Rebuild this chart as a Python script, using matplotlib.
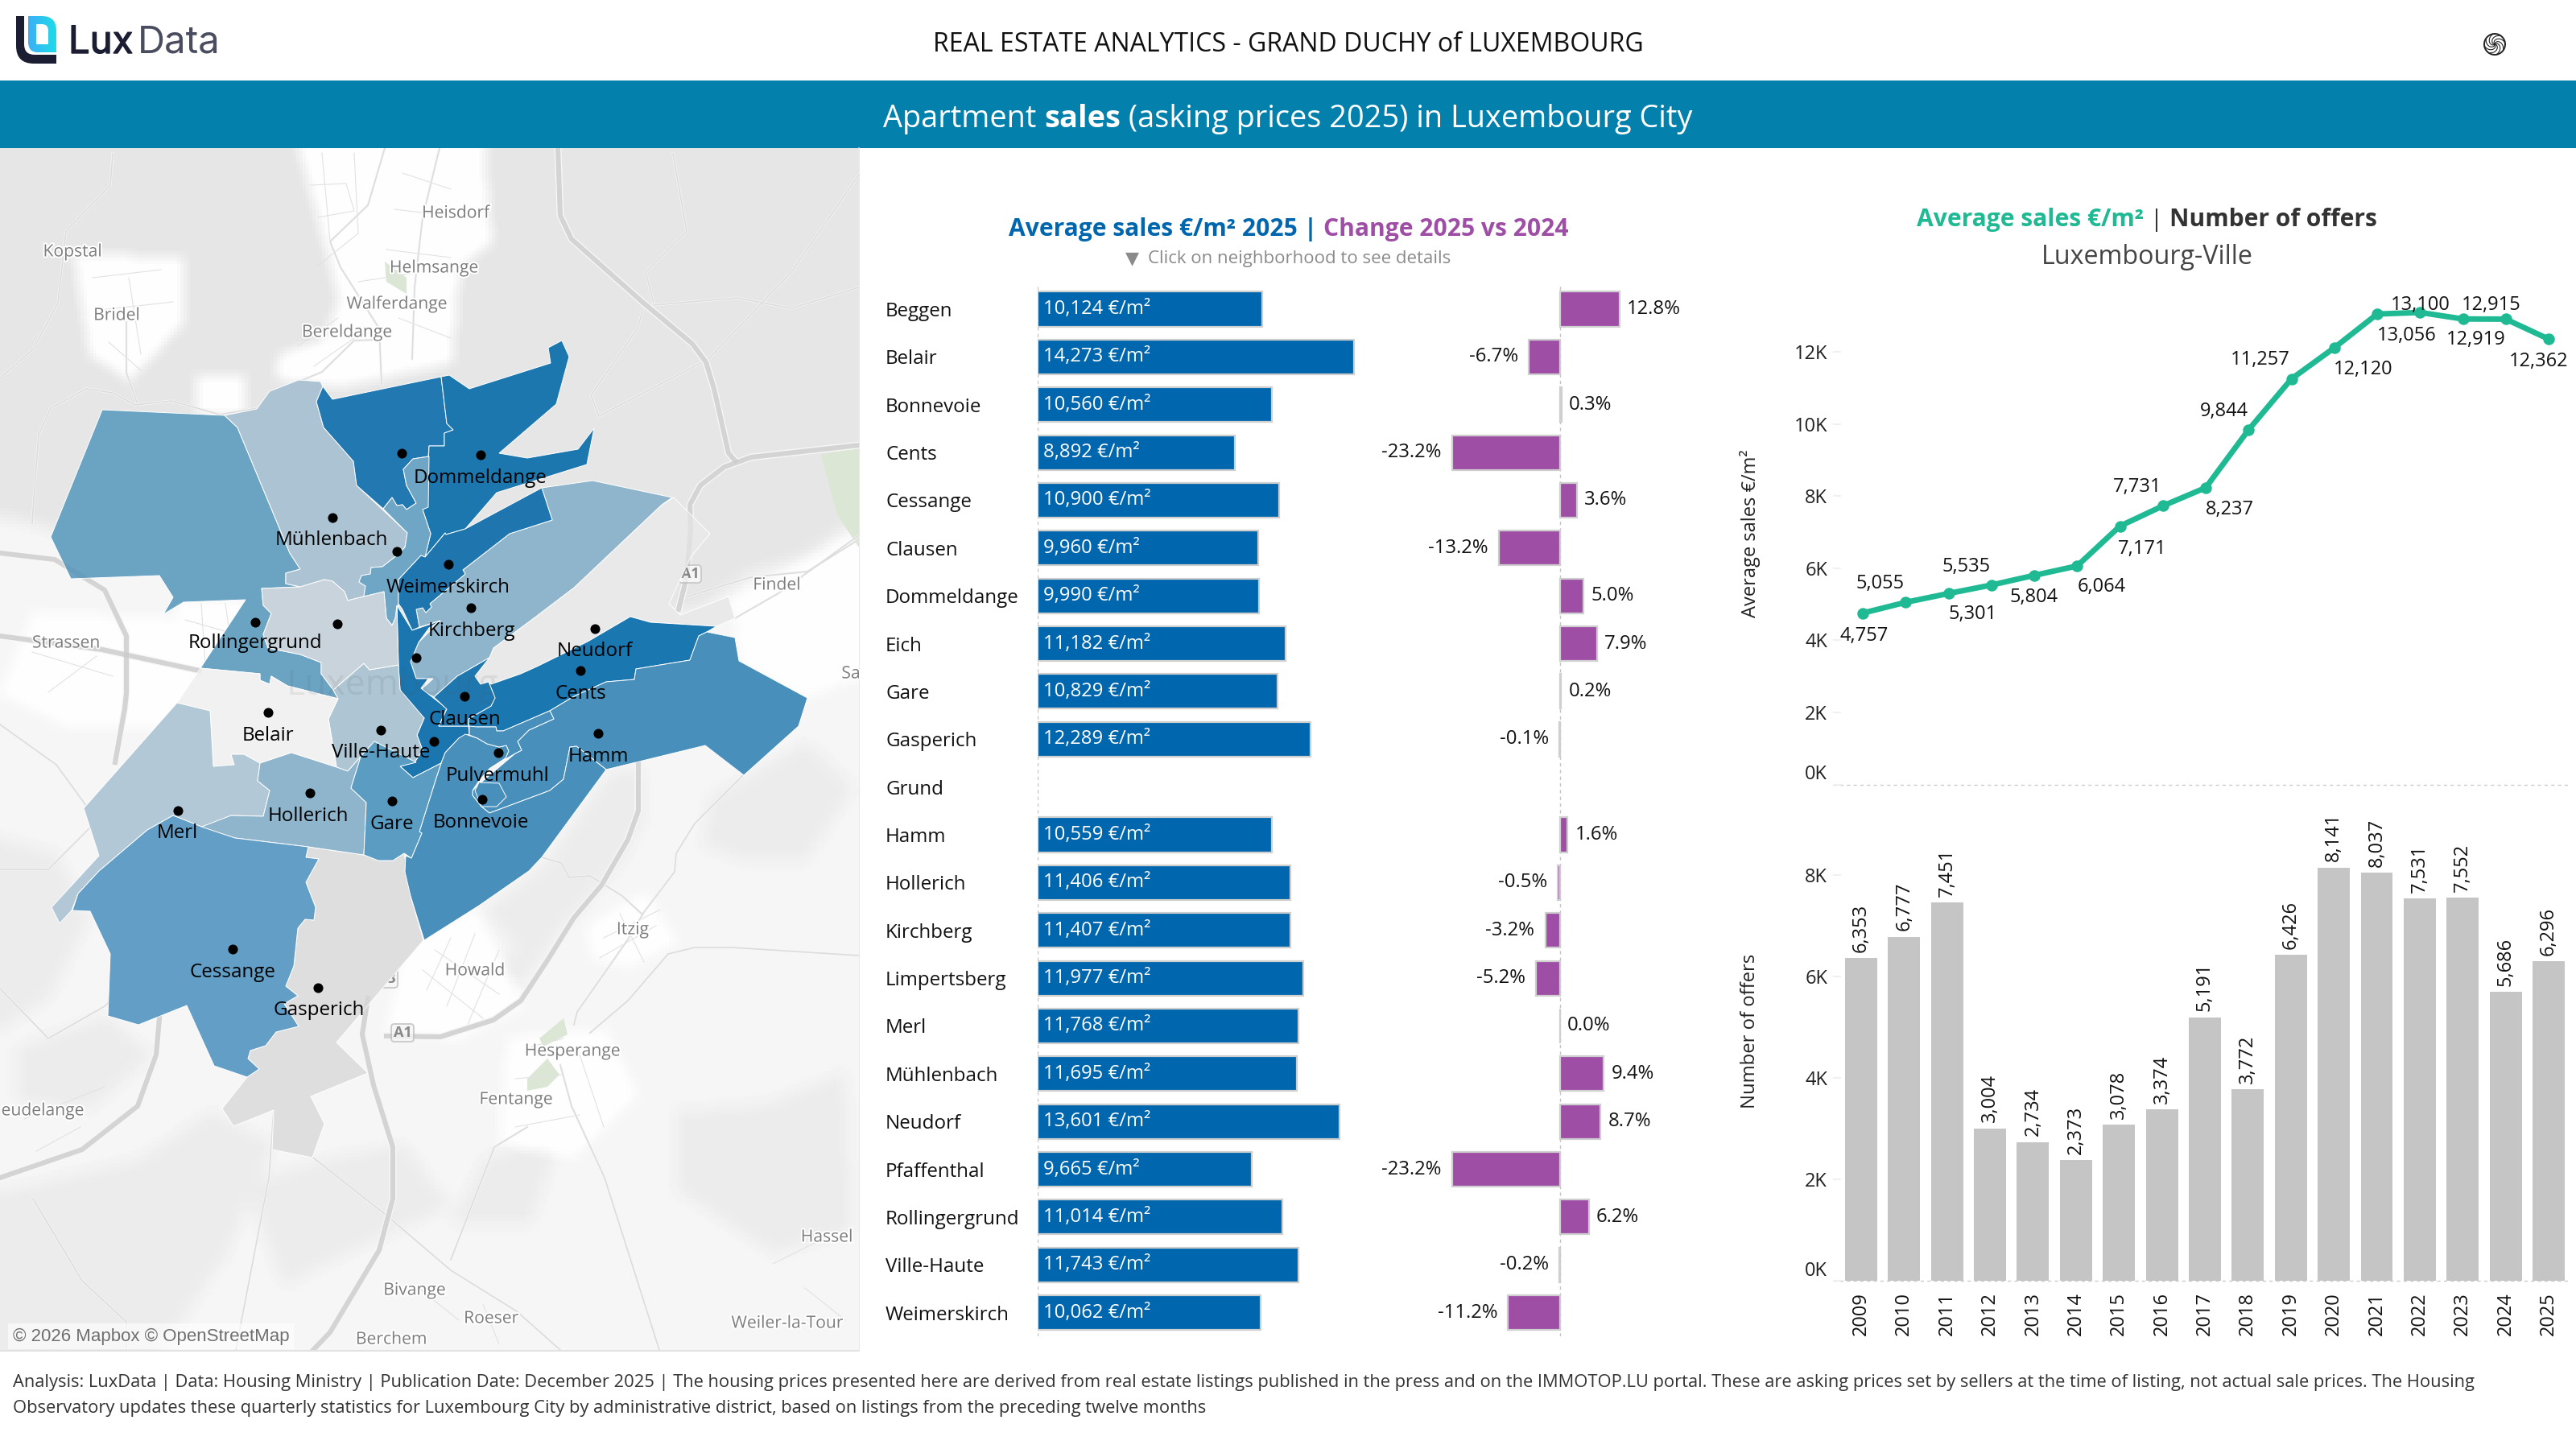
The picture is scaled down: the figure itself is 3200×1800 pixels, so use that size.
import numpy as np
import matplotlib
matplotlib.use("Agg")
import matplotlib.pyplot as plt
import matplotlib.patheffects as pe
from matplotlib.patches import PathPatch, Polygon, FancyBboxPatch
from matplotlib.path import Path

plt.rcParams["font.family"] = ["Open Sans", "DejaVu Sans"]
W, H = 3200, 1800

# ---- bars: neighborhoods
districts = ["Beggen", "Belair", "Bonnevoie", "Cents", "Cessange", "Clausen", "Dommeldange", "Eich",
             "Gare", "Gasperich", "Grund", "Hamm", "Hollerich", "Kirchberg", "Limpertsberg", "Merl",
             "Mühlenbach", "Neudorf", "Pfaffenthal", "Rollingergrund", "Ville-Haute", "Weimerskirch"]
price_2025 = [10124, 14273, 10560, 8892, 10900, 9960, 9990, 11182, 10829, 12289, np.nan, 10559,
              11406, 11407, 11977, 11768, 11695, 13601, 9665, 11014, 11743, 10062]
change_pct = [12.8, -6.7, 0.3, -23.2, 3.6, -13.2, 5.0, 7.9, 0.2, -0.1, np.nan, 1.6,
              -0.5, -3.2, -5.2, 0.0, 9.4, 8.7, -23.2, 6.2, -0.2, -11.2]

# ---- right panels
years = list(range(2009, 2026))
avg_sales = [4757, 5055, 5301, 5535, 5804, 6064, 7171, 7731, 8237, 9844, 11257, 12120, 13056,
             13100, 12919, 12915, 12362]
offers = [6353, 6777, 7451, 3004, 2734, 2373, 3078, 3374, 5191, 3772, 6426, 8141, 8037, 7531,
          7552, 5686, 6296]
line_label_shift = [(2, 28), (-32, -23), (30, 26), (-31, -23), (0, 27), (30, 26), (28, 28), (-32, -23),
                    (30, 27), (-30, -23), (-39, -24), (36, 27), (37, 27), (0, -9), (16, 26), (-18, -17),
                    (-12, 28)]

# ---- map outlines, traced in picture pixels
grey_north = [(837, 618), (882, 663), (858, 692), (831, 750), (845, 764), (905, 741), (913, 768), (890, 778),
              (808, 773), (783, 766), (730, 797), (667, 828), (647, 837), (610, 850), (597, 850), (590, 840),
              (608, 817), (613, 805), (663, 768), (713, 730), (822, 627)]
gasperich = [(383, 1052), (452, 1062), (470, 1069), (488, 1069), (502, 1060), (505, 1075), (510, 1113), (526, 1168),
             (418, 1295), (457, 1333), (386, 1362), (403, 1396), (388, 1438), (338, 1428), (340, 1379), (290, 1399),
             (276, 1377), (307, 1338), (322, 1328), (308, 1315), (311, 1305), (330, 1299), (343, 1282), (371, 1275),
             (353, 1247), (370, 1237), (355, 1225), (365, 1200), (370, 1153), (379, 1142), (390, 1143), (392, 1127),
             (380, 1096), (396, 1067), (380, 1065)]
rollingergrund = [(127, 509), (279, 516), (295, 531), (360, 687), (373, 707), (355, 712), (355, 725), (373, 729),
                  (325, 731), (327, 752), (337, 762), (327, 788), (333, 805), (373, 813), (399, 823), (399, 837),
                  (414, 857), (420, 868), (357, 852), (337, 840), (335, 850), (323, 845), (323, 837), (249, 830),
                  (305, 745), (228, 748), (203, 763), (215, 742), (198, 715), (88, 719), (63, 667)]
muhlenbach = [(279, 516), (319, 508), (335, 486), (371, 472), (398, 474), (401, 480), (393, 499), (402, 531),
              (439, 573), (443, 603), (506, 662), (503, 680), (493, 690), (475, 704), (461, 705), (460, 713),
              (449, 715), (446, 723), (454, 728), (452, 741), (432, 746), (428, 735), (413, 722), (403, 720),
              (373, 729), (355, 725), (355, 712), (373, 707), (360, 687), (295, 531)]
beggen = [(401, 480), (413, 496), (548, 468), (555, 526), (563, 534), (552, 538), (552, 554), (533, 554), (532, 567),
          (513, 570), (501, 583), (505, 603), (517, 625), (505, 633), (500, 627), (493, 628), (487, 618), (476, 632),
          (443, 603), (439, 573), (402, 531), (393, 499)]
dommeldange = [(548, 468), (558, 466), (583, 483), (684, 451), (681, 432), (698, 423), (707, 443), (691, 502),
               (620, 563), (655, 569), (718, 558), (738, 532), (729, 577), (617, 612), (578, 657), (554, 664),
               (553, 662), (528, 692), (535, 663), (525, 633), (530, 630), (533, 554), (552, 554), (552, 538),
               (563, 534), (555, 526)]
eich = [(533, 567), (513, 570), (501, 583), (505, 603), (517, 625), (505, 633), (500, 627), (493, 628), (487, 618),
        (476, 632), (506, 662), (503, 680), (493, 690), (475, 704), (461, 705), (460, 713), (449, 715), (446, 723),
        (454, 728), (452, 741), (477, 735), (480, 768), (487, 777), (491, 768), (495, 750), (495, 720), (523, 690),
        (528, 692), (535, 663), (525, 633), (532, 630)]
weimerskirch = [(673, 606), (686, 646), (633, 663), (575, 708), (578, 713), (534, 750), (536, 754), (529, 761),
                (525, 755), (517, 757), (521, 779), (512, 783), (500, 757), (495, 750), (495, 720), (523, 690),
                (528, 692), (553, 662), (554, 664), (578, 657)]
pfaffenthal = [(493, 752), (512, 783), (547, 771), (533, 780), (520, 798), (510, 822), (517, 843), (532, 843),
               (523, 855), (555, 880), (545, 902), (582, 902), (583, 912), (570, 917), (553, 935), (548, 948),
               (513, 966), (497, 952), (515, 947), (525, 932), (518, 913), (527, 892), (512, 880), (497, 857),
               (495, 830)]
kirchberg = [(673, 606), (736, 597), (835, 618), (822, 627), (713, 730), (663, 768), (613, 805), (608, 817),
             (568, 840), (539, 866), (523, 857), (538, 843), (517, 843), (510, 822), (520, 798), (547, 771),
             (521, 779), (517, 757), (525, 755), (529, 761), (536, 754), (534, 750), (578, 713), (575, 708),
             (633, 663), (686, 646)]
neudorf = [(783, 766), (808, 773), (890, 778), (878, 785), (868, 790), (857, 820), (790, 831), (788, 844), (753, 847),
           (713, 865), (683, 883), (625, 908), (617, 908), (616, 903), (593, 903), (583, 905), (582, 893), (610, 877),
           (615, 867), (607, 847), (610, 850), (647, 837), (667, 828), (730, 797)]
clausen = [(608, 817), (568, 840), (539, 866), (555, 881), (545, 902), (582, 902), (582, 893), (610, 877), (615, 867),
           (607, 847), (597, 850), (590, 840)]
hamm = [(878, 785), (913, 792), (918, 821), (1003, 867), (992, 902), (924, 963), (876, 926), (753, 956), (716, 927),
        (708, 928), (700, 968), (683, 982), (608, 1010), (598, 1002), (587, 988), (587, 982), (600, 970), (640, 936),
        (648, 932), (643, 921), (657, 907), (688, 893), (683, 883), (713, 865), (753, 847), (788, 844), (790, 831),
        (857, 820), (868, 790)]
bonnevoie = [(753, 956), (673, 1065), (657, 1082), (595, 1125), (527, 1168), (510, 1113), (503, 1083), (504, 1063),
             (511, 1066), (524, 1035), (521, 1033), (543, 963), (548, 948), (553, 935), (570, 917), (578, 912),
             (593, 917), (605, 924), (620, 928), (629, 926), (632, 933), (628, 942), (608, 955), (595, 970),
             (587, 982), (587, 988), (598, 1002), (608, 1010), (683, 982), (700, 968), (708, 928), (716, 927)]
pulvermuhl = [(583, 902), (593, 903), (616, 903), (617, 908), (625, 908), (683, 883), (688, 893), (657, 907),
              (643, 921), (648, 932), (640, 936), (608, 955), (628, 942), (632, 933), (629, 926), (620, 928),
              (605, 924), (593, 917), (583, 913)]
pulvermuhl_hole = [(590, 982), (595, 972), (620, 973), (629, 990), (617, 1002), (598, 1002)]
ville_haute = [(414, 857), (452, 824), (459, 832), (495, 826), (497, 857), (527, 892), (518, 913), (525, 932),
               (515, 947), (465, 921), (448, 940), (432, 958), (418, 953), (408, 893), (420, 868)]
limpertsberg = [(325, 731), (373, 729), (403, 720), (413, 722), (428, 735), (432, 746), (452, 741), (477, 735),
                (480, 768), (487, 777), (491, 768), (493, 752), (495, 826), (459, 832), (452, 824), (414, 857),
                (399, 837), (399, 823), (373, 813), (333, 805), (327, 788), (337, 762), (327, 752)]
belair = [(249, 830), (323, 837), (323, 845), (335, 850), (337, 840), (357, 852), (420, 868), (408, 893), (418, 953),
          (362, 935), (323, 948), (303, 937), (287, 937), (291, 950), (265, 952), (261, 883), (220, 873)]
merl = [(220, 873), (261, 883), (265, 952), (291, 950), (287, 937), (303, 937), (323, 948), (320, 970), (335, 982),
        (327, 1014), (287, 1013), (253, 1028), (215, 1013), (183, 1031), (123, 1082), (97, 1110), (89, 1131),
        (74, 1147), (64, 1127), (123, 1063), (104, 1004)]
hollerich = [(323, 948), (362, 935), (418, 953), (432, 958), (448, 940), (436, 979), (455, 997), (452, 1062),
             (383, 1052), (292, 1041), (248, 1028), (287, 1013), (327, 1014), (335, 982), (320, 970)]
gare = [(436, 979), (448, 940), (465, 921), (517, 947), (497, 952), (513, 966), (548, 948), (543, 963), (521, 1033),
        (524, 1035), (511, 1066), (502, 1060), (488, 1069), (470, 1069), (452, 1062), (455, 997)]
cessange = [(215, 1013), (253, 1028), (292, 1041), (383, 1052), (380, 1065), (396, 1067), (380, 1096), (392, 1127),
            (390, 1143), (379, 1142), (370, 1153), (365, 1200), (355, 1225), (370, 1237), (353, 1247), (371, 1275),
            (343, 1282), (330, 1299), (311, 1305), (308, 1315), (322, 1328), (307, 1338), (266, 1324), (232, 1249),
            (172, 1273), (134, 1262), (137, 1185), (112, 1132), (90, 1131), (97, 1110), (123, 1082), (183, 1031)]

map_polys = [grey_north, gasperich, rollingergrund, muhlenbach, beggen, dommeldange, eich, kirchberg, weimerskirch,
             pfaffenthal, neudorf, clausen, hamm, bonnevoie, pulvermuhl, pulvermuhl_hole, ville_haute, limpertsberg,
             belair, merl, hollerich, gare, cessange]
map_poly_colors = ["#e9e9e9", "#dedede", "#6ba3c3", "#abc3d2", "#2278b1", "#1c77af", "#6fa6c6", "#8fb5cd", "#1f76af",
                   "#1b75ae", "#1a77af", "#1f77af", "#488fbb", "#488fbb", "#488fbb", "#488fbb", "#aec5d3", "#c9d3db",
                   "#f1f1f1", "#b2c8d6", "#8fb5cd", "#5b9cc3", "#629ec5"]

map_labels = ["Dommeldange", "Mühlenbach", "Weimerskirch", "Kirchberg", "Rollingergrund", "Neudorf", "Cents",
              "Clausen", "Belair", "Ville-Haute", "Hollerich", "Merl", "Gare", "Cessange", "Gasperich", "Hamm",
              "Pulvermuhl", "Bonnevoie"]
map_label_x = [597, 412, 557, 586, 317, 739, 721, 577, 333, 473, 383, 220, 487, 289, 396, 743, 618, 597]
map_label_y = [594, 671, 730, 784, 799, 809, 862, 894, 914, 935, 1014, 1035, 1024, 1208, 1255, 940, 964, 1022]
dot_x = [499, 597, 413, 493, 557, 585, 317, 419, 517, 739, 721, 577, 333, 473, 539, 743, 619, 385, 599, 487, 221, 289, 395]
dot_y = [563, 565, 643, 685, 701, 755, 773, 775, 817, 781, 833, 865, 885, 907, 921, 911, 935, 985, 993, 995, 1007, 1179, 1227]

places = ["Heisdorf", "Kopstal", "Helmsange", "Walferdange", "Bridel", "Bereldange", "Strassen", "Findel", "Sa",
          "Howald", "Itzig", "Hesperange", "Fentange", "eudelange", "Hassel", "Bivange", "Roeser", "Weiler-la-Tour",
          "Berchem"]
place_x = [566, 90, 539, 493, 145, 431, 82, 965, 1057, 590, 786, 711, 641, 53, 1027, 515, 610, 978, 486]
place_y = [265, 313, 333, 378, 392, 413, 799, 727, 837, 1206, 1155, 1306, 1366, 1380, 1537, 1603, 1638, 1644, 1664]

motorways = [
    [(693, 184), (696, 268), (710, 297), (799, 376), (860, 427), (877, 450), (887, 483), (905, 563), (913, 572)],
    [(1067, 553), (933, 568), (900, 580), (870, 603), (857, 627), (858, 657), (853, 717), (843, 757)],
    [(0, 687), (68, 695), (130, 733), (157, 790), (157, 861), (155, 880), (143, 947)],
    [(198, 1265), (194, 1310), (171, 1374), (102, 1428), (0, 1463)],
    [(793, 947), (793, 1007), (780, 1043), (747, 1100), (713, 1140), (680, 1193), (647, 1243), (613, 1267), (547, 1288), (480, 1287)],
    [(457, 1240), (450, 1285), (464, 1348), (488, 1425), (488, 1489), (471, 1553), (410, 1655), (389, 1677)],
    [(0, 790), (127, 807), (247, 833)],
]
minor_roads = [
    [(546, 184), (525, 270), (515, 357), (512, 446)],
    [(478, 184), (457, 255), (410, 300), (423, 332), (471, 408), (474, 478)],
    [(140, 191), (137, 230), (82, 287), (72, 376), (41, 434), (0, 470)],
    [(836, 191), (853, 287), (802, 338), (812, 376)],
    [(1067, 217), (983, 338), (880, 446), (744, 517), (734, 491), (792, 408), (799, 383)],
    [(1067, 357), (983, 383), (915, 370), (812, 379)],
    [(107, 483), (63, 507), (48, 540), (42, 620), (40, 650)],
    [(107, 483), (140, 488), (168, 503), (213, 498), (273, 515), (320, 507), (357, 480), (400, 462), (440, 423), (470, 422)],
    [(157, 400), (157, 463), (170, 500)],
    [(847, 743), (933, 717), (1003, 710), (1067, 670)],
    [(913, 768), (967, 737), (1067, 665)],
    [(819, 1677), (751, 1463), (710, 1374), (696, 1323)],
    [(560, 1565), (614, 1425), (655, 1400)],
    [(389, 1438), (478, 1508), (560, 1578), (642, 1629), (696, 1677)],
    [(41, 1489), (102, 1591), (157, 1642), (157, 1677)],
    [(293, 1677), (334, 1463), (340, 1380)],
    [(923, 963), (863, 1023), (840, 1060), (838, 1083), (800, 1133), (780, 1167), (743, 1220), (717, 1257), (713, 1273)],
    [(1067, 1187), (910, 1177), (863, 1177), (830, 1185), (780, 1243), (733, 1283)],
    [(673, 1065), (697, 1072), (707, 1090), (733, 1088), (773, 1113), (797, 1135)],
    [(0, 1228), (60, 1290), (130, 1250), (190, 1190), (270, 1120)],
    [(0, 900), (70, 950), (110, 1005), (200, 1020)],
    [(0, 1080), (60, 1080), (120, 1020)],
]
# thin street bits inside the villages
streets = [
    [(385, 230), (430, 228), (440, 262), (395, 270)], [(400, 190), (410, 300)], [(440, 190), (445, 290), (395, 330)],
    [(500, 215), (560, 235)], [(490, 260), (575, 270)], [(480, 310), (560, 320)], [(445, 350), (510, 340)],
    [(115, 345), (200, 335)], [(125, 385), (215, 375)], [(135, 425), (175, 460)], [(160, 345), (175, 440)],
    [(370, 430), (420, 395)], [(390, 455), (440, 420)], [(495, 395), (560, 420)],
    [(540, 1180), (620, 1235)], [(525, 1205), (600, 1265)], [(560, 1165), (530, 1230)], [(590, 1160), (555, 1250)],
    [(620, 1180), (580, 1275)],
    [(750, 1165), (820, 1130)], [(745, 1190), (815, 1150)], [(770, 1135), (800, 1195)],
    [(640, 1340), (700, 1335)], [(660, 1300), (700, 1290)], [(640, 1400), (720, 1385)], [(720, 1310), (750, 1400)],
    [(40, 810), (140, 840)], [(60, 860), (120, 815)], [(230, 770), (300, 790)], [(250, 750), (255, 825)], [(280, 750), (290, 820)],
    [(30, 1390), (130, 1350)], [(45, 1430), (100, 1400)], [(520, 1600), (570, 1640)], [(600, 1620), (620, 1670)],
    [(960, 1570), (1040, 1530)], [(1000, 1600), (1050, 1640)],
]
# hills are grey, towns are white, the rest of the basemap sits in between
hills_north = [[(0, 184), (1067, 184), (1067, 640), (1000, 690), (930, 712), (870, 755), (600, 800), (0, 640)]]
hills_south = [
    [(673, 1075), (755, 960), (795, 950), (800, 1020), (770, 1075), (700, 1150), (650, 1220), (600, 1220), (640, 1180), (600, 1130)],
    [(880, 990), (1000, 920), (1060, 980), (1000, 1070), (920, 1070), (870, 1050)],
    [(840, 1380), (950, 1370), (1050, 1330), (1060, 1530), (960, 1560), (840, 1480)],
    [(0, 1480), (170, 1440), (260, 1380), (340, 1420), (280, 1560), (200, 1677), (0, 1677)],
    [(0, 1040), (70, 1060), (110, 1140), (60, 1240), (0, 1280)],
    [(300, 1470), (400, 1440), (500, 1420), (560, 1500), (470, 1540), (350, 1600)],
    [(20, 1300), (130, 1260), (190, 1310), (110, 1380), (20, 1370)],
    [(600, 1440), (700, 1400), (660, 1520), (560, 1520)],
]
towns = [
    [(370, 184), (600, 184), (610, 300), (570, 330), (560, 450), (420, 480), (340, 470), (345, 440), (400, 420), (420, 370)],
    [(90, 312), (225, 320), (225, 400), (160, 472), (110, 440)],
    [(243, 467), (300, 467), (300, 513), (243, 513)],
    [(905, 745), (1067, 660), (1067, 840), (1000, 865), (918, 821), (913, 770)],
    [(500, 1175), (590, 1130), (650, 1250), (570, 1290), (480, 1280)],
    [(730, 1150), (800, 1110), (840, 1170), (780, 1200), (735, 1190)],
    [(630, 1290), (750, 1280), (790, 1360), (710, 1440), (620, 1420)],
    [(40, 760), (240, 770), (330, 800), (250, 850), (200, 900), (80, 900), (0, 860)],
    [(220, 747), (303, 747), (303, 827), (220, 827)],
]
parks = [[(1020, 565), (1067, 555), (1067, 680), (1040, 640)],
         [(670, 1290), (700, 1265), (705, 1285), (675, 1300)],
         [(655, 1340), (680, 1315), (695, 1335), (680, 1350), (655, 1355)],
         [(478, 325), (505, 345), (505, 365), (480, 350)]]
shield_names = ["A1", "A1", "A3"]
shield_x = [857, 500, 480]
shield_y = [713, 1283, 1216]

fig = plt.figure(figsize=(16, 9), dpi=200, facecolor="white")


def px_axes(left, top, right, bottom):
    return fig.add_axes([left / W, 1 - bottom / H, (right - left) / W, (bottom - top) / H])


page = px_axes(0, 0, W, H)
page.set_xlim(0, W)
page.set_ylim(H, 0)
page.axis("off")
renderer = fig.canvas.get_renderer()


def rich_text(x, y, parts, size, center=True):
    # colored / bold runs on one line
    items = [page.text(0, y, s, fontsize=size, color=c, fontweight=w, va="center", ha="left") for s, c, w in parts]
    widths = [t.get_window_extent(renderer).width for t in items]
    cur = x - sum(widths) / 2 if center else x
    for t, wd in zip(items, widths):
        t.set_x(cur)
        cur += wd


# header
page.add_patch(plt.Rectangle((0, 100), W, 84, color="#0380ab", lw=0))
page.text(1600, 55, "REAL ESTATE ANALYTICS - GRAND DUCHY of LUXEMBOURG", fontsize=11.5, ha="center", va="center", color="#111111")
rich_text(1600, 148, [("Apartment ", "white", "normal"), ("sales", "white", "bold"),
                      (" (asking prices 2025) in Luxembourg City", "white", "normal")], 13.65)

# logo
logo_l = Path([(20, 20), (30, 20), (30, 55), (30, 68), (43, 68), (70, 68), (70, 79), (42, 79), (20, 79), (20, 57), (20, 20)],
              [1, 2, 2, 3, 3, 2, 2, 2, 3, 3, 79])
page.add_patch(PathPatch(logo_l, color="#1b1d33", lw=0))
logo_d = Path([(35, 20), (52, 20), (70, 20), (70, 38), (70, 65), (47, 65), (35, 65), (35, 52), (35, 20),
               (45, 30), (45, 55), (60, 55), (60, 38), (60, 30), (52, 30), (45, 30)],
              [1, 2, 3, 3, 2, 2, 3, 3, 79, 1, 2, 2, 2, 3, 3, 79])
grad = np.linspace(0, 1, 60)[None, :]
im = page.imshow(grad, extent=(35, 70, 65, 20), cmap=matplotlib.colors.LinearSegmentedColormap.from_list("logo", ["#3cb0f6", "#1edbe8"]),
                 aspect="auto", zorder=2)
im.set_clip_path(PathPatch(logo_d, transform=page.transData))
page.set_xlim(0, W)
page.set_ylim(H, 0)
page.text(85, 54, "Lux", fontsize=17, family="Inter", color="#1b1d33", va="center", ha="left",
          path_effects=[pe.withStroke(linewidth=0.5, foreground="#1b1d33")])
page.text(171, 54, "Data", fontsize=17, family="Inter", color="#4a4c60", va="center", ha="left")

# spiral icon
for a in np.linspace(0, 2 * np.pi, 9)[:-1]:
    t = np.linspace(0, 1, 20)
    r = 13 * t
    ang = a + 2.2 * t
    page.plot(3099 + r * np.cos(ang), 55 + r * np.sin(ang), color="#222222", lw=0.4)
t = np.linspace(0, 2 * np.pi, 60)
page.plot(3099 + 13 * np.cos(t), 55 + 13 * np.sin(t), color="#222222", lw=0.7)

# ---- map
ax_map = px_axes(0, 184, 1067, 1677)
ax_map.set_xlim(0, 1067)
ax_map.set_ylim(1677, 184)
ax_map.axis("off")

gx, gy = np.meshgrid(np.arange(0, 1067, 4), np.arange(184, 1677, 4))
pts = np.column_stack([gx.ravel(), gy.ravel()])


def soft_mask(polys, n):
    m = np.zeros(gx.size, dtype=float)
    for p in polys:
        m = np.maximum(m, Path(p).contains_points(pts, radius=0.5).astype(float))
    m = m.reshape(gx.shape)
    k = np.ones(n) / n
    for ax_i in (0, 1):
        m = np.apply_along_axis(lambda v: np.convolve(np.pad(v, n, mode="edge"), k, mode="same")[n:-n], ax_i, m)
    return m


shade = 246 - 16 * soft_mask(hills_north, 7) - 10 * soft_mask(hills_south, 7)
town_mask = soft_mask(towns, 5)
shade = shade * (1 - town_mask) + 254 * town_mask
ax_map.imshow(shade, extent=(0, 1067, 1677, 184), cmap="gray", vmin=0, vmax=255, aspect="auto", zorder=0)
ax_map.set_xlim(0, 1067)
ax_map.set_ylim(1677, 184)

for p in parks:
    ax_map.add_patch(Polygon(p, closed=True, fc="#dce6d5", ec="none", zorder=1))
for r in streets:
    xs, ys = zip(*r)
    ax_map.plot(xs, ys, color="#e2e2e2", lw=0.4, zorder=1.1)
for r in minor_roads:
    xs, ys = zip(*r)
    ax_map.plot(xs, ys, color="#f7f7f7", lw=1.1, zorder=1.2, solid_joinstyle="round")
    ax_map.plot(xs, ys, color="#dcdcdc", lw=0.6, zorder=1.3, solid_joinstyle="round")
for r in motorways:
    xs, ys = zip(*r)
    ax_map.plot(xs, ys, color="#f7f7f7", lw=3.2, zorder=1.4, solid_joinstyle="round")
    ax_map.plot(xs, ys, color="#dcdcdc", lw=2.2, zorder=1.5, solid_joinstyle="round")
    # the roads show faintly through the colored areas
    ax_map.plot(xs, ys, color="black", alpha=0.035, lw=2.2, zorder=2.5, solid_joinstyle="round")

for nm, x, y in zip(shield_names, shield_x, shield_y):
    ax_map.add_patch(FancyBboxPatch((x - 14, y - 11), 28, 22, boxstyle="round,pad=0,rounding_size=4", fc="#f6f6f6",
                                    ec="#cccccc", lw=0.7, zorder=1.6))
    ax_map.text(x, y, nm, fontsize=6.5, fontweight="bold", color="#8a8a8a", ha="center", va="center", zorder=1.7)

for x, y, nm in zip(place_x, place_y, places):
    ax_map.text(x, y, nm, fontsize=7.6, color="#7d7d7d", ha="center", va="center", zorder=1.9,
                path_effects=[pe.withStroke(linewidth=1.4, foreground="white")])

for p, c in zip(map_polys, map_poly_colors):
    ax_map.add_patch(Polygon(p, closed=True, fc=c, ec="white", lw=0.35, zorder=2))
ax_map.text(487, 852, "Luxembourg", fontsize=16, color="#555555", alpha=0.1, ha="center", va="center", zorder=2.6)
ax_map.scatter(dot_x, dot_y, s=19, color="black", lw=0, zorder=3)
for nm, x, y in zip(map_labels, map_label_x, map_label_y):
    ax_map.text(x, y, nm, fontsize=8.7, color="black", ha="center", va="center", zorder=4)
ax_map.text(16, 1660, "© 2026 Mapbox © OpenStreetMap", fontsize=8, family="Liberation Sans", color="#6f6f6f", va="center",
            zorder=5, bbox=dict(fc="white", ec="none", alpha=0.6, pad=2))
page.plot([0, 1067], [1677.5, 1677.5], color="#dddddd", lw=0.6)
page.plot([1067, 1067], [184, 1677], color="#e4e4e4", lw=0.6)

# ---- neighborhood price bars
row_top, row_bottom = 354.3, 1660.3
px_per_eur = 0.02756
ax_price = px_axes(1289, row_top, 1889, row_bottom)
ax_price.set_xlim(0, 600 / px_per_eur)
ax_price.set_ylim(21.5, -0.5)
ax_price.axis("off")
ax_price.axvline(0, color="#c4c4c4", lw=0.5, ls=(0, (3, 3)), zorder=0)
ax_price.barh(range(len(districts)), price_2025, height=0.725, color="#0066ae", edgecolor="#cfcfcf", lw=0.8, zorder=2)
for i, (nm, v) in enumerate(zip(districts, price_2025)):
    page.text(1100, row_top + (i + 0.5) * (row_bottom - row_top) / 22 + 3, nm, fontsize=8.7, color="#111111", va="center", ha="left")
    if not np.isnan(v):
        ax_price.annotate(f"{v:,.0f} €/m²", (0, i), xytext=(2.7, 0), textcoords="offset points", fontsize=8.6,
                          color="white", va="center", ha="left", zorder=3)

px_per_pct = 5.78
ax_change = px_axes(1760, row_top, 2110, row_bottom)
ax_change.set_xlim(-178 / px_per_pct, 172 / px_per_pct)
ax_change.set_ylim(21.5, -0.5)
ax_change.axis("off")
ax_change.axvline(0, color="#c4c4c4", lw=0.5, ls=(0, (3, 3)), zorder=0)
ax_change.barh(range(len(districts)), change_pct, height=0.725, color="#9e4ea5", edgecolor="#cfcfcf", lw=0.8, zorder=2)
for i, v in enumerate(change_pct):
    if np.isnan(v):
        continue
    if v >= 0:
        ax_change.annotate(f"{v:.1f}%", (v, i), xytext=(3.3, 0), textcoords="offset points", fontsize=8.6,
                           color="#111111", va="center", ha="left")
    else:
        ax_change.annotate(f"{v:.1f}%", (v, i), xytext=(-4.7, 0), textcoords="offset points", fontsize=8.6,
                           color="#111111", va="center", ha="right")

rich_text(1601, 285, [("Average sales €/m² 2025", "#0066ae", "bold"), (" | ", "#0066ae", "bold"),
                      ("Change 2025 vs 2024", "#9e4ea5", "bold")], 10.8)
rich_text(1600, 322, [("▼  ", "#8a8a8a", "normal"), ("Click on neighborhood to see details", "#8a8a8a", "normal")], 8)

# ---- yearly line
ax_line = px_axes(2277, 348, 3190, 974.5)
ax_line.set_xlim(2009 - 37 / 53.25, 2025 + 24 / 53.25)
ax_line.set_ylim(0, 626.5 / 0.04476)
ax_line.plot(years, avg_sales, color="#1fba94", lw=2.5, marker="o", ms=4.2, solid_capstyle="round", clip_on=False)
for yr, v, (dx, dy) in zip(years, avg_sales, line_label_shift):
    ax_line.annotate(f"{v:,}", (yr, v), xytext=(dx / 2.78, -dy / 2.78), textcoords="offset points", fontsize=8.5,
                     color="#111111", ha="center", va="center", annotation_clip=False)
rich_text(2667, 273, [("Average sales €/m²", "#1fba94", "bold"), (" | ", "#333333", "normal"),
                      ("Number of offers", "#333333", "bold")], 10.8)
page.text(2667, 320, "Luxembourg-Ville", fontsize=11.6, color="#444444", ha="center", va="center")
page.text(2174, 663, "Average sales €/m²", rotation=90, fontsize=8.5, color="#222222", ha="center", va="center")

# ---- yearly offers
ax_bar = px_axes(2277, 1036, 3190, 1591)
ax_bar.set_xlim(2009 - 35 / 53.4, 2025 + 24 / 53.4)
ax_bar.set_ylim(0, 555 / 0.06306)
ax_bar.bar(years, offers, width=40 / 53.4, color="#c5c5c5", lw=0)
for yr, v in zip(years, offers):
    ax_bar.annotate(f"{v:,}", (yr, v), xytext=(0, 2.6), textcoords="offset points", rotation=90, fontsize=8.5,
                    color="#111111", ha="center", va="bottom")
    ax_bar.annotate(str(yr), (yr, 0), xytext=(0, -5), textcoords="offset points", rotation=90, fontsize=8.5,
                    color="#111111", ha="center", va="top")
page.text(2174, 1281, "Number of offers", rotation=90, fontsize=8.6, color="#222222", ha="center", va="center")

for ax, ticks in ((ax_line, [0, 2000, 4000, 6000, 8000, 10000, 12000]), (ax_bar, [0, 2000, 4000, 6000, 8000])):
    for s in ax.spines.values():
        s.set_visible(False)
    ax.set_xticks([])
    ax.set_yticks(ticks)
    ax.set_yticklabels([f"{t // 1000}K" for t in ticks], fontsize=8.5, color="#222222")
    ax.tick_params(axis="y", direction="in", length=3.5, width=0.6, color="#eeeeee", pad=2.5)
    ax.get_yticklabels()[0].set_va("bottom")
    ax.axhline(0, color="#cccccc", lw=0.5, ls=(0, (3, 3)), zorder=0, clip_on=False)
    ax.patch.set_alpha(0)

# ---- footer
page.text(16, 1718, "Analysis: LuxData | Data: Housing Ministry | Publication Date: December 2025 | The housing prices presented here are derived from real estate listings published in the press and on the IMMOTOP.LU portal. These are asking prices set by sellers at the time of listing, not actual sale prices. The Housing",
          fontsize=7.89, color="#333333", va="center", ha="left")
page.text(16, 1750, "Observatory updates these quarterly statistics for Luxembourg City by administrative district, based on listings from the preceding twelve months",
          fontsize=7.89, color="#333333", va="center", ha="left")

fig.savefig("out.png", dpi=200)
